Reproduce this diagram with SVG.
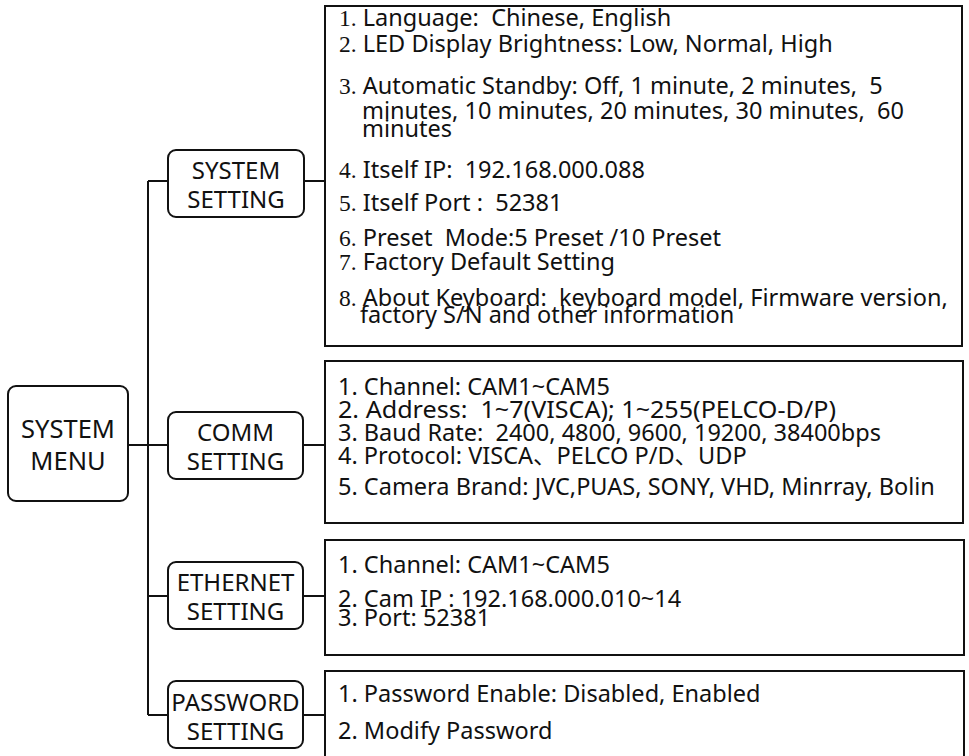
<svg xmlns="http://www.w3.org/2000/svg" width="969" height="756" viewBox="0 0 969 756" xml:space="preserve">
<style>
.box{fill:#fff;stroke:#111;stroke-width:2}
.node{fill:#fff;stroke:#111;stroke-width:2}
.ln{stroke:#111;stroke-width:2;fill:none}
text{font-family:"Noto Sans","Noto Sans CJK SC",sans-serif;fill:#111;white-space:pre}
.nt{font-size:24px;text-anchor:middle}
.mt{font-size:25.5px;text-anchor:middle}
.ct{font-size:23.5px}
.num{font-family:"Liberation Serif","Times New Roman",serif}
</style>
<rect width="969" height="756" fill="#fff"/>
<g id="connectors">
<path class="ln" d="M128 445H148M148 181V715M148 181H168M148 445H168M148 596H168M148 715H168"/>
<path class="ln" d="M304 181H325M303 445H325M303 596H325M303 715H325"/>
</g>
<g id="system-menu">
<rect class="node" x="8" y="386" width="120" height="115" rx="8"/>
<text class="mt" x="68" y="438">SYSTEM</text>
<text class="mt" x="68" y="470">MENU</text>
</g>
<g id="system-setting">
<rect class="node" x="168" y="150" width="136" height="67" rx="8"/>
<text class="nt" x="236" y="179">SYSTEM</text>
<text class="nt" x="236" y="208">SETTING</text>
</g>
<g id="comm-setting">
<rect class="node" x="168" y="412" width="135" height="67" rx="8"/>
<text class="nt" x="235.5" y="441">COMM</text>
<text class="nt" x="235.5" y="470">SETTING</text>
</g>
<g id="ethernet-setting">
<rect class="node" x="168" y="562" width="135" height="67" rx="8"/>
<text class="nt" x="235.5" y="591">ETHERNET</text>
<text class="nt" x="235.5" y="620">SETTING</text>
</g>
<g id="password-setting">
<rect class="node" x="168" y="681" width="135" height="67" rx="8"/>
<text class="nt" x="235.5" y="711">PASSWORD</text>
<text class="nt" x="235.5" y="740">SETTING</text>
</g>
<g id="system-setting-list">
<rect class="box" x="325" y="6" width="637" height="340"/>
<text class="ct" x="339" y="26"><tspan class="num">1.</tspan> Language:  Chinese, English</text>
<text class="ct" x="339" y="52"><tspan class="num">2.</tspan> LED Display Brightness: Low, Normal, High</text>
<text class="ct" x="339" y="94"><tspan class="num">3.</tspan> Automatic Standby: Off, 1 minute, 2 minutes,  5</text>
<text class="ct" x="362" y="119">minutes, 10 minutes, 20 minutes, 30 minutes,  60</text>
<text class="ct" x="362" y="137">minutes</text>
<text class="ct" x="339" y="178"><tspan class="num">4.</tspan> Itself IP:  192.168.000.088</text>
<text class="ct" x="339" y="211"><tspan class="num">5.</tspan> Itself Port :  52381</text>
<text class="ct" x="339" y="246"><tspan class="num">6.</tspan> Preset  Mode:5 Preset /10 Preset</text>
<text class="ct" x="339" y="270"><tspan class="num">7.</tspan> Factory Default Setting</text>
<text class="ct" x="339" y="306"><tspan class="num">8.</tspan> About Keyboard:  keyboard model, Firmware version,</text>
<text class="ct" x="360" y="323">factory S/N and other information</text>
</g>
<g id="comm-setting-list">
<rect class="box" x="325" y="361" width="638" height="162"/>
<text class="ct" x="338" y="395">1. Channel: CAM1~CAM5</text>
<text class="ct" x="338" y="418" textLength="498" lengthAdjust="spacingAndGlyphs">2. Address:  1~7(VISCA); 1~255(PELCO-D/P)</text>
<text class="ct" x="338" y="441">3. Baud Rate:  2400, 4800, 9600, 19200, 38400bps</text>
<text class="ct" x="338" y="464">4. Protocol: VISCA、PELCO P/D、UDP</text>
<text class="ct" x="338" y="495">5. Camera Brand: JVC,PUAS, SONY, VHD, Minrray, Bolin</text>
</g>
<g id="ethernet-setting-list">
<rect class="box" x="325" y="540" width="639" height="115"/>
<text class="ct" x="338" y="573">1. Channel: CAM1~CAM5</text>
<text class="ct" x="338" y="607">2. Cam IP : 192.168.000.010~14</text>
<text class="ct" x="338" y="626">3. Port: 52381</text>
</g>
<g id="password-setting-list">
<rect class="box" x="325" y="671" width="639" height="95"/>
<text class="ct" x="338" y="702">1. Password Enable: Disabled, Enabled</text>
<text class="ct" x="338" y="739">2. Modify Password</text>
</g>
</svg>
